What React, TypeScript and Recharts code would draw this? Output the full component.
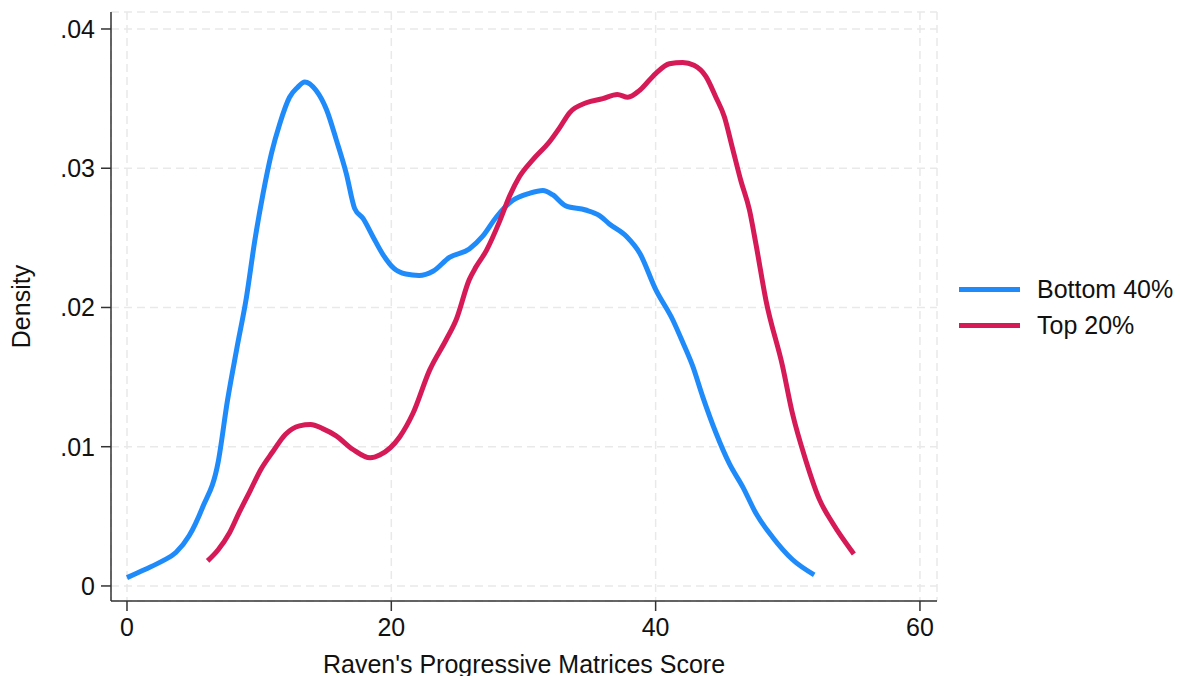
import React from "react";
import { LineChart, Line, XAxis, YAxis, CartesianGrid, Legend } from "recharts";

// Kernel density of Raven's scores
const bottom40 = [
  { x: 0, y: 0.0006 }, { x: 1.4, y: 0.0012 }, { x: 2.7, y: 0.0018 }, { x: 3.7, y: 0.0024 },
  { x: 4.7, y: 0.0036 }, { x: 5.7, y: 0.0056 }, { x: 6.9, y: 0.0089 }, { x: 7.6, y: 0.0133 },
  { x: 8.3, y: 0.017 }, { x: 9.05, y: 0.0208 }, { x: 9.67, y: 0.0248 }, { x: 10.3, y: 0.0282 },
  { x: 10.94, y: 0.0311 }, { x: 11.56, y: 0.0332 }, { x: 12.3, y: 0.0351 }, { x: 12.9, y: 0.0358 },
  { x: 13.45, y: 0.0362 }, { x: 14.3, y: 0.0356 }, { x: 15.1, y: 0.0342 }, { x: 15.85, y: 0.032 },
  { x: 16.6, y: 0.0296 }, { x: 17.23, y: 0.0271 }, { x: 17.86, y: 0.0264 }, { x: 18.6, y: 0.0251 },
  { x: 19.37, y: 0.0238 }, { x: 20.2, y: 0.0228 }, { x: 21.1, y: 0.0224 }, { x: 22.1, y: 0.0223 },
  { x: 23.15, y: 0.0226 }, { x: 24.4, y: 0.0236 }, { x: 25.9, y: 0.0242 }, { x: 26.9, y: 0.0251 },
  { x: 27.95, y: 0.0265 }, { x: 29.2, y: 0.0277 }, { x: 30.45, y: 0.0282 }, { x: 31.47, y: 0.0284 },
  { x: 32.2, y: 0.0281 }, { x: 33.2, y: 0.0273 }, { x: 34.7, y: 0.027 }, { x: 35.75, y: 0.0266 },
  { x: 36.5, y: 0.026 }, { x: 37.8, y: 0.0251 }, { x: 38.8, y: 0.0239 }, { x: 40, y: 0.0213 },
  { x: 41.3, y: 0.0191 }, { x: 42.05, y: 0.0175 }, { x: 42.8, y: 0.0158 }, { x: 43.56, y: 0.0136 },
  { x: 44.56, y: 0.011 }, { x: 45.57, y: 0.0088 }, { x: 46.6, y: 0.0071 }, { x: 47.6, y: 0.0052 },
  { x: 48.85, y: 0.0035 }, { x: 50.35, y: 0.0019 }, { x: 52, y: 0.0008 },
];

const top20 = [
  { x: 6.1, y: 0.0018 }, { x: 6.9, y: 0.0026 }, { x: 7.75, y: 0.0038 }, { x: 8.5, y: 0.0053 },
  { x: 9.3, y: 0.0068 }, { x: 10.15, y: 0.0084 }, { x: 11.0, y: 0.0096 }, { x: 12.0, y: 0.0109 },
  { x: 13.05, y: 0.0115 }, { x: 13.9, y: 0.0116 }, { x: 14.8, y: 0.0113 }, { x: 15.8, y: 0.0108 },
  { x: 17.1, y: 0.0098 }, { x: 18.4, y: 0.0092 }, { x: 19.12, y: 0.0094 }, { x: 20.63, y: 0.0107 },
  { x: 21.64, y: 0.0124 }, { x: 22.9, y: 0.0155 }, { x: 24.16, y: 0.0177 }, { x: 24.9, y: 0.0191 },
  { x: 25.9, y: 0.022 }, { x: 26.4, y: 0.0229 }, { x: 27.2, y: 0.0241 }, { x: 28.2, y: 0.0262 },
  { x: 28.95, y: 0.028 }, { x: 29.7, y: 0.0294 }, { x: 30.7, y: 0.0306 }, { x: 31.97, y: 0.0319 },
  { x: 32.73, y: 0.0329 }, { x: 33.5, y: 0.034 }, { x: 34.75, y: 0.0347 }, { x: 36, y: 0.035 },
  { x: 37.1, y: 0.0353 }, { x: 37.9, y: 0.0351 }, { x: 38.8, y: 0.0356 }, { x: 40, y: 0.0368 },
  { x: 41.04, y: 0.0375 }, { x: 42.05, y: 0.0376 }, { x: 42.9, y: 0.0374 }, { x: 43.8, y: 0.0366 },
  { x: 44.56, y: 0.0351 }, { x: 45.2, y: 0.0337 }, { x: 45.8, y: 0.0315 }, { x: 46.45, y: 0.0291 },
  { x: 47.1, y: 0.027 }, { x: 47.6, y: 0.0245 }, { x: 48.35, y: 0.0205 }, { x: 49.6, y: 0.0158 },
  { x: 50.35, y: 0.0124 }, { x: 51.37, y: 0.009 }, { x: 52.4, y: 0.0062 }, { x: 53.4, y: 0.0045 },
  { x: 55.0, y: 0.0023 },
];

const xTicks = [0, 20, 40, 60];
const yTicks = [0, 0.01, 0.02, 0.03, 0.04];

const series = [
  { name: "Bottom 40%", color: "#1f8bfa", data: bottom40 },
  { name: "Top 20%", color: "#d51a57", data: top20 },
];

const FONT = '"Liberation Sans", Arial, Helvetica, sans-serif';
const FS = 25;
const AXIS = "#333";

const fmtY = (v: number) => (v === 0 ? "0" : String(v).replace(/^0/, ""));

function LegendBox() {
  return (
    <div style={{ fontFamily: FONT, fontSize: FS, color: "#111" }}>
      {series.map((s) => (
        <div key={s.name} style={{ display: "flex", alignItems: "center", height: 35.5 }}>
          <div style={{ width: 61, height: 5, background: s.color, marginRight: 17 }} />
          <span>{s.name}</span>
        </div>
      ))}
    </div>
  );
}

export default function App() {
  return (
    <LineChart
      width={1173}
      height={668}
      margin={{ top: 4, right: 244, bottom: 0, left: 0 }}
      style={{ fontFamily: FONT }}
    >
      <CartesianGrid stroke="#e9e9e9" strokeWidth={1.5} strokeDasharray="8 5" />
      <XAxis
        type="number"
        dataKey="x"
        domain={[-1.21, 61.29]}
        allowDataOverflow
        ticks={xTicks}
        height={75}
        tickSize={10}
        tickMargin={7}
        stroke={AXIS}
        strokeWidth={1.5}
        fontSize={FS}
        tick={{ fill: "#111", fontSize: FS }}
        label={{
          content: (props: any) => {
            const vb = props.viewBox;
            return (
              <text x={vb.x + vb.width / 2} y={vb.y + vb.height - 3.5} textAnchor="middle" fontSize={FS} fill="#111">
                Raven's Progressive Matrices Score
              </text>
            );
          },
        }}
      />
      <YAxis
        type="number"
        domain={[-0.00108, 0.04122]}
        allowDataOverflow
        ticks={yTicks}
        width={103}
        tickSize={10}
        tickMargin={6}
        tickFormatter={fmtY}
        stroke={AXIS}
        strokeWidth={1.5}
        fontSize={FS}
        tick={{ fill: "#111", fontSize: FS }}
        label={{
          content: (props: any) => {
            const vb = props.viewBox;
            const cx = 22;
            const cy = vb.y + vb.height / 2;
            return (
              <text x={cx} y={cy} transform={`rotate(-90 ${cx} ${cy})`} textAnchor="middle" fontSize={FS} fill="#111">
                Density
              </text>
            );
          },
        }}
      />
      <Legend
        layout="horizontal"
        align="center"
        verticalAlign="middle"
        wrapperStyle={{ left: 951, top: 264, width: 222 }}
        content={() => <LegendBox />}
      />
      {series.map((s) => (
        <Line
          key={s.name}
          data={s.data}
          dataKey="y"
          name={s.name}
          type="monotone"
          stroke={s.color}
          strokeWidth={5}
          dot={false}
          activeDot={false}
          isAnimationActive={false}
        />
      ))}
    </LineChart>
  );
}
